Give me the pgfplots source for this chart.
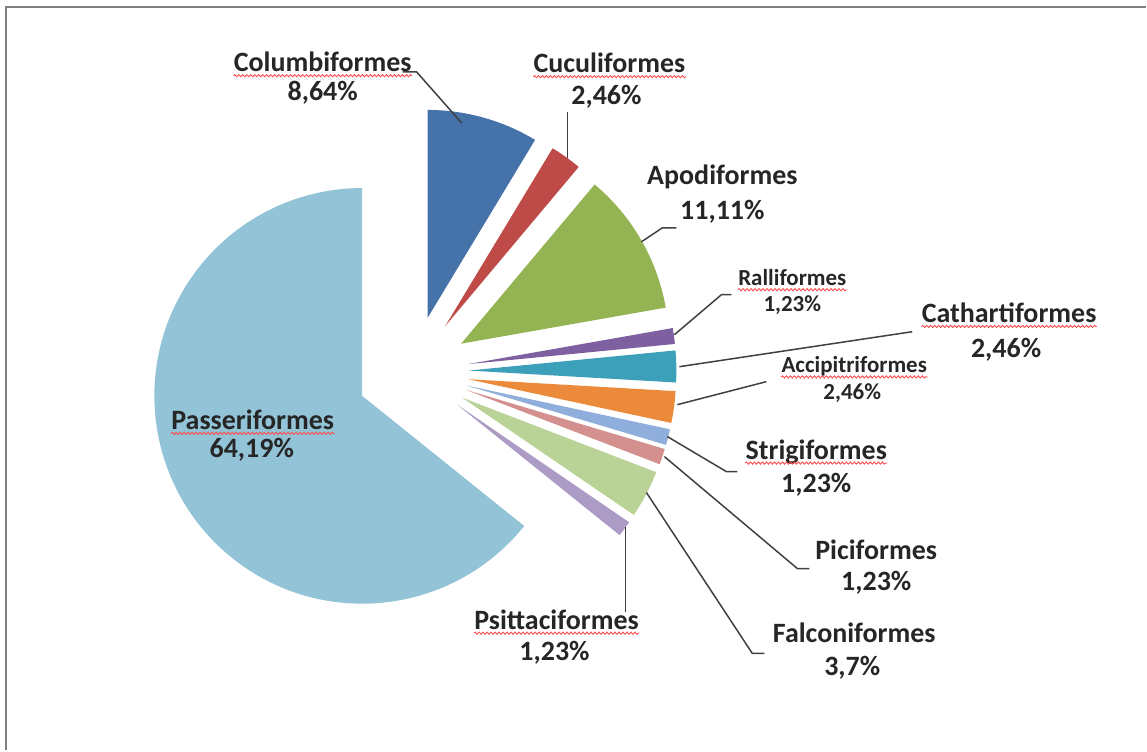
\documentclass[border=0pt]{standalone}
\usepackage{fontspec}
\setmainfont{Carlito}
\usepackage{pgfplots}
\usepackage{pgfplotstable}
\pgfplotsset{compat=1.18}
\usetikzlibrary{decorations.pathmorphing}

% order: clockwise from 12 o'clock
\pgfplotstableread{
name            share  col
Columbiformes    8.64  cCol
Cuculiformes     2.46  cCuc
Apodiformes     11.11  cApo
Ralliformes      1.23  cRal
Cathartiformes   2.46  cCat
Accipitriformes  2.46  cAcc
Strigiformes     1.23  cStr
Piciformes       1.23  cPic
Falconiformes    3.70  cFal
Psittaciformes   1.23  cPsi
Passeriformes   64.19  cPas
}\birds

\definecolor{cCol}{HTML}{4572A9}
\definecolor{cCuc}{HTML}{BE4B48}
\definecolor{cApo}{HTML}{94B454}
\definecolor{cRal}{HTML}{7E5FA0}
\definecolor{cCat}{HTML}{3CA0BA}
\definecolor{cAcc}{HTML}{EB8A3A}
\definecolor{cStr}{HTML}{8FAEDB}
\definecolor{cPic}{HTML}{D4908E}
\definecolor{cFal}{HTML}{B9D295}
\definecolor{cPsi}{HTML}{AC9BC4}
\definecolor{cPas}{HTML}{92C3D6}
\definecolor{txt}{HTML}{262626}

\tikzset{
  big/.style={font=\fontsize{14}{16}\selectfont\bfseries, text=txt, inner sep=0pt, anchor=center},
  small/.style={font=\fontsize{11.5}{13}\selectfont\bfseries, text=txt, inner sep=0pt, anchor=center},
  lead/.style={draw=black!75, line width=0.75pt},
  wavy/.style={draw=red!70, line width=0.45pt, decorate, decoration={snake, amplitude=0.55pt, segment length=2pt}},
}

\def\total{99.94}
\def\cx{413}\def\cy{379}
\def\xpl{56}

\begin{document}
\begin{tikzpicture}
\begin{axis}[
  width=573.5pt, height=375.5pt, scale only axis, hide axis,
  xmin=0, xmax=1147, ymin=0, ymax=751, clip=false]

\path (axis cs:0,0) rectangle (axis cs:1147,751);
% frame (top and left only)
\draw[black!50, line width=1pt] (axis cs:6,0) -- (axis cs:6,744) -- (axis cs:1147,744);

% wedges
\pgfplotstablegetrowsof{\birds}
\pgfmathtruncatemacro\last{\pgfplotsretval-1}
\xdef\cum{0}
\foreach \i in {0,...,\last}{
  \pgfplotstablegetelem{\i}{share}\of\birds \let\val\pgfplotsretval
  \pgfplotstablegetelem{\i}{col}\of\birds \let\cc\pgfplotsretval
  \pgfmathsetmacro\aS{90-\cum/\total*360}
  \pgfmathsetmacro\aE{90-(\cum+\val)/\total*360}
  \pgfmathsetmacro\am{(\aS+\aE)/2}
  \pgfmathsetmacro\px{\cx+\xpl*cos(\am)}
  \pgfmathsetmacro\py{\cy+\xpl*sin(\am)}
  \edef\temp{\noexpand\fill[\cc] (axis cs:\px,\py) -- ++(\aS:104pt) arc[start angle=\aS, end angle=\aE, radius=104pt] -- cycle;}
  \temp
  \pgfmathsetmacro\nc{\cum+\val}
  \xdef\cum{\nc}
}

% leader lines
\draw[lead] (axis cs:403,679) -- (axis cs:417,679) -- (axis cs:462,628);
\draw[lead] (axis cs:568,639) -- (axis cs:568,593);
\draw[lead] (axis cs:677,523) -- (axis cs:663,523) -- (axis cs:642,509);
\draw[lead] (axis cs:732,456) -- (axis cs:722,456) -- (axis cs:675,416);
\draw[lead] (axis cs:913,419) -- (axis cs:680,384);
\draw[lead] (axis cs:767,369) -- (axis cs:678,346);
\draw[lead] (axis cs:738,279) -- (axis cs:727,279) -- (axis cs:668,314);
\draw[lead] (axis cs:810,182) -- (axis cs:798,182) -- (axis cs:665,294);
\draw[lead] (axis cs:765,97) -- (axis cs:753,97) -- (axis cs:647,258);
\draw[lead] (axis cs:626,138) -- (axis cs:626,224);

% labels
\node[big] (n1) at (axis cs:323,689) {Columbiformes};
\node[big] at (axis cs:323,658) {8,64\%};
\node[big] (n2) at (axis cs:610,688) {Cuculiformes};
\node[big] at (axis cs:607,654) {2,46\%};
\node[big] at (axis cs:723,574) {Apodiformes};
\node[big] at (axis cs:723,539) {11,11\%};
\node[small] (n4) at (axis cs:793,473) {Ralliformes};
\node[small] at (axis cs:793,446) {1,23\%};
\node[big] (n5) at (axis cs:1010,438) {Cathartiformes};
\node[big] at (axis cs:1007,401) {2,46\%};
\node[small] (n6) at (axis cs:855,384) {Accipitriformes};
\node[small] at (axis cs:853,358) {2,46\%};
\node[big] (n7) at (axis cs:817,299) {Strigiformes};
\node[big] at (axis cs:817,266) {1,23\%};
\node[big] at (axis cs:877,201) {Piciformes};
\node[big] at (axis cs:877,168) {1,23\%};
\node[big] at (axis cs:855,118) {Falconiformes};
\node[big] at (axis cs:853,83) {3,7\%};
\node[big] (n10) at (axis cs:557,131) {Psittaciformes};
\node[big] at (axis cs:555,98) {1,23\%};
\node[big] (n11) at (axis cs:253,331) {Passeriformes};
\node[big] at (axis cs:252,301) {64,19\%};

% spell-check underlines
\foreach \n in {n1,n2,n4,n5,n6,n7,n10,n11}{
  \edef\temp{\noexpand\draw[wavy] ([yshift=-2pt]\n.base west) -- ([yshift=-2pt]\n.base east);}
  \temp
}
\end{axis}
\end{tikzpicture}
\end{document}
